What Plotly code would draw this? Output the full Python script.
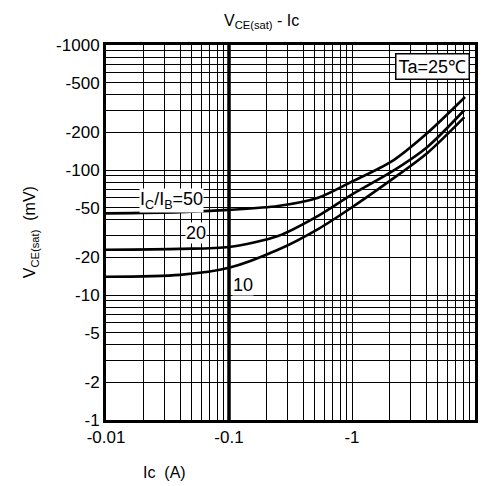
import math
import plotly.graph_objects as go

# Collector current magnitude (A) and VCE(sat) magnitude (mV)
ic_50 = [0.01, 0.04, 0.1, 0.25, 0.53, 0.98, 2.07, 4.1, 8.3]
vce_50 = [45, 46, 48, 51.5, 60, 80, 116, 198, 384]

ic_20 = [0.01, 0.04, 0.1, 0.25, 0.53, 0.98, 2.07, 4.1, 8.2]
vce_20 = [23, 23.4, 24.2, 29.6, 43, 63, 96, 153, 302]

ic_10 = [0.01, 0.04, 0.1, 0.25, 0.53, 0.98, 2.07, 4.1, 8.2]
vce_10 = [14, 14.5, 16.5, 23, 33.7, 49.7, 83, 137, 265]

curve_labels = ["I<sub>C</sub>/I<sub>B</sub>=50", "20", "10"]
label_pos_x = [0.034, 0.054, 0.13]
label_pos_y = [57.5, 31.3, 12.0]

y_tick_vals = [1000, 500, 200, 100, 50, 20, 10, 5, 2, 1]
y_tick_text = ["-1000", "-500", "-200", "-100", "-50", "-20", "-10", "-5", "-2", "-1"]
x_tick_vals = [0.01, 0.1, 1, 10]
x_tick_text = ["-0.01", "-0.1", "-1", "-10"]

FONT = "Liberation Sans, Arial, sans-serif"

grid_x = [m * 10 ** e for e in (-2, -1, 0) for m in range(1, 10)] + [10]
grid_y = [m * 10 ** e for e in (0, 1, 2) for m in range(1, 10)] + [1000]

fig = go.Figure()
for xs, ys in ((ic_50, vce_50), (ic_20, vce_20), (ic_10, vce_10)):
    fig.add_trace(go.Scatter(x=xs, y=ys, mode="lines",
                             line=dict(color="black", width=2.6, shape="spline", smoothing=0.8),
                             showlegend=False, hoverinfo="skip"))

for txt, lx, ly in zip(curve_labels, label_pos_x, label_pos_y):
    fig.add_annotation(x=math.log10(lx), y=math.log10(ly), xref="x", yref="y", text=txt,
                       showarrow=False, font=dict(family=FONT, size=18, color="black"),
                       bgcolor="white", borderpad=0)

axis_common = dict(type="log", showline=True, linecolor="black", linewidth=3, mirror=True,
                   ticks="", showgrid=True, gridcolor="black", gridwidth=1.3,
                   tickfont=dict(family=FONT, size=17, color="black"), zeroline=False)

fig.update_xaxes(**axis_common, range=[-2, 1], tickvals=x_tick_vals, ticktext=x_tick_text,
                 minor=dict(tickvals=grid_x, showgrid=True, gridcolor="black", gridwidth=1.3, ticks=""))
fig.update_yaxes(**axis_common, range=[0, 3], tickvals=y_tick_vals, ticktext=y_tick_text,
                 minor=dict(tickvals=grid_y, showgrid=True, gridcolor="black", gridwidth=1.3, ticks=""))

# thick decade line
fig.add_shape(type="line", xref="x", yref="paper", x0=0.1, x1=0.1, y0=0, y1=1,
              line=dict(color="black", width=3.5), layer="above")

fig.add_annotation(xref="paper", yref="paper", x=0.987, y=0.979, xanchor="right", yanchor="top",
                   text="Ta=25℃", showarrow=False, font=dict(family=FONT, size=18, color="black"),
                   bgcolor="white", bordercolor="black", borderwidth=1.5, borderpad=2)

fig.add_annotation(xref="paper", yref="paper", x=0.422, xanchor="center", y=1.0, yanchor="bottom",
                   yshift=12, text="V<sub>CE(sat)</sub> - Ic", showarrow=False,
                   font=dict(family=FONT, size=16, color="black"))

fig.add_annotation(xref="paper", yref="paper", x=-0.204, xanchor="center", y=0.5,
                   yanchor="middle", textangle=-90,
                   text="V<sub>CE(sat)</sub>  (mV)", showarrow=False,
                   font=dict(family=FONT, size=16, color="black"))

fig.add_annotation(xref="paper", yref="paper", x=0.159, xanchor="center", y=0, yanchor="top",
                   yshift=-42, text="Ic  (A)", showarrow=False,
                   font=dict(family=FONT, size=16, color="black"))

fig.update_layout(width=483, height=486, margin=dict(l=106, r=5, t=45, b=66),
                  plot_bgcolor="white", paper_bgcolor="white", showlegend=False)

fig.write_html("out.html", config={"displayModeBar": False},
               post_script="document.body.style.margin='0';")
